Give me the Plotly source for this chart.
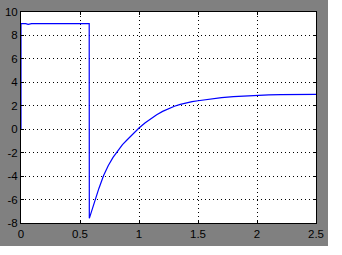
import plotly.graph_objects as go

# ---- data ----
t_values = [0.0, 0.0, 0.04, 0.06, 0.09, 0.30, 0.32, 0.34, 0.46, 0.48, 0.50, 0.54, 0.56, 0.578,
            0.579, 0.60, 0.63, 0.66, 0.70, 0.74, 0.78, 0.82, 0.86, 0.90, 0.95, 1.00,
            1.05, 1.10, 1.15, 1.20, 1.25, 1.30, 1.35, 1.40, 1.45, 1.50, 1.60, 1.70, 1.80, 1.90,
            2.00, 2.10, 2.20, 2.30, 2.40, 2.50]
y_values = [0.0, 9.0, 9.0, 8.95, 9.0, 9.0, 8.95, 9.0, 9.0, 8.95, 9.0, 9.0, 8.95, 9.0,
            -7.6, -6.9, -5.95, -5.05, -3.95, -3.1, -2.4, -1.82, -1.32, -0.9, -0.38, 0.1,
            0.53, 0.91, 1.24, 1.52, 1.76, 1.96, 2.12, 2.25, 2.35, 2.43, 2.58, 2.69, 2.78, 2.85,
            2.9, 2.93, 2.95, 2.965, 2.975, 2.98]

x_tick_vals = [0, 0.5, 1, 1.5, 2, 2.5]
x_tick_text = ["0", "0.5", "1", "1.5", "2", "2.5"]
y_tick_vals = [-8, -6, -4, -2, 0, 2, 4, 6, 8, 10]
y_tick_text = ["-8", "-6", "-4", "-2", "0", "2", "4", "6", "8", "10"]

W, H = 342, 255
ML, MR, MT, MB = 21, 26, 12, 32

fig = go.Figure()
fig.add_trace(go.Scatter(x=t_values, y=y_values, mode="lines",
                         line=dict(color="#0000FF", width=1.2),
                         hoverinfo="skip", showlegend=False))

axis_common = dict(
    showline=True, linecolor="black", linewidth=1, mirror="ticks",
    ticks="inside", ticklen=3, tickcolor="black", tickwidth=1,
    showgrid=True, gridcolor="black", gridwidth=1, griddash="1px,3px",
    zeroline=False, automargin=False,
    tickfont=dict(family="Liberation Sans, Arial, sans-serif", size=11.5, color="black"),
    fixedrange=True,
)

fig.update_xaxes(range=[0, 2.5], tickmode="array", tickvals=x_tick_vals, ticktext=x_tick_text,
                 **axis_common)
fig.update_yaxes(range=[-8, 10], tickmode="array", tickvals=y_tick_vals, ticktext=y_tick_text,
                 **axis_common)

pw = W - ML - MR
ph = H - MT - MB
def px_x(p):
    return (p - ML) / pw
def px_y(p):
    return (H - MB - p) / ph

# white strips outside the gray figure area (right and bottom)
fig.add_shape(type="rect", xref="paper", yref="paper", layer="above",
              x0=px_x(328), x1=px_x(W + 5), y0=px_y(H + 5), y1=px_y(-5),
              fillcolor="white", line=dict(width=0))
fig.add_shape(type="rect", xref="paper", yref="paper", layer="above",
              x0=px_x(-5), x1=px_x(W + 5), y0=px_y(H + 5), y1=px_y(246),
              fillcolor="white", line=dict(width=0))

fig.update_layout(
    width=W, height=H,
    margin=dict(l=ML, r=MR, t=MT, b=MB, pad=0),
    paper_bgcolor="#808080", plot_bgcolor="white",
    showlegend=False,
)

fig.write_html("out.html", config={"displayModeBar": False})
